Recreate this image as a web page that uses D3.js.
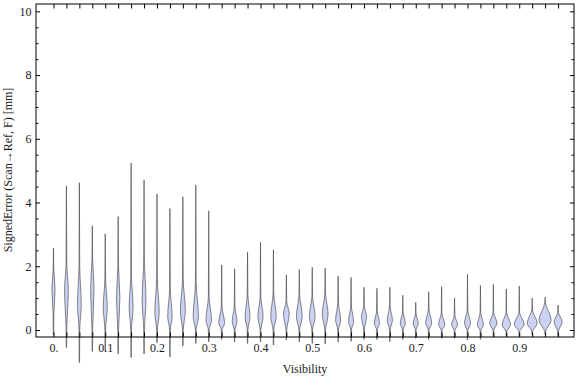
<!DOCTYPE html>
<html>
<head>
<meta charset="utf-8">
<script src="https://cdn.jsdelivr.net/npm/d3@7"></script>
<style>
  body { margin: 0; background: #fff; }
  text { font-family: "Liberation Serif", "DejaVu Serif", serif; }
</style>
</head>
<body>
<div id="chart"></div>
<script>
// visibility bins (one violin each)
var visibility = [0, 0.025, 0.05, 0.075, 0.1, 0.125, 0.15, 0.175, 0.2, 0.225,
    0.25, 0.275, 0.3, 0.325, 0.35, 0.375, 0.4, 0.425, 0.45, 0.475,
    0.5, 0.525, 0.55, 0.575, 0.6, 0.625, 0.65, 0.675, 0.7, 0.725,
    0.75, 0.775, 0.8, 0.825, 0.85, 0.875, 0.9, 0.925, 0.95, 0.975];

// largest / smallest signed error per bin [mm]
var maxErr = [2.57, 4.52, 4.62, 3.27, 3.02, 3.56, 5.24, 4.71, 4.27, 3.81,
    4.18, 4.55, 3.74, 2.04, 1.92, 2.44, 2.75, 2.52, 1.73, 1.90,
    1.97, 1.94, 1.70, 1.65, 1.34, 1.31, 1.34, 1.09, 0.87, 1.20,
    1.36, 1.00, 1.75, 1.40, 1.43, 1.29, 1.38, 1.00, 1.03, 0.78];
var minErr = [-0.16, -0.55, -1.02, -0.67, -0.68, -0.75, -0.86, -0.75, -0.40, -0.84,
    -0.50, -0.42, -0.37, -0.29, -0.37, -0.42, -0.37, -0.47, -0.31, -0.37,
    -0.42, -0.44, -0.37, -0.35, -0.29, -0.29, -0.37, -0.29, -0.26, -0.30,
    -0.26, -0.26, -0.31, -0.29, -0.21, -0.20, -0.20, -0.16, -0.14, -0.20];

// where the bulk of the distribution sits
var bodyTop = [1.9, 2.1, 2.0, 2.2, 1.6, 2.0, 1.7, 2.2, 1.6, 1.3,
    1.6, 1.5, 1.05, 0.75, 0.75, 1.1, 1.05, 1.15, 0.9, 1.1,
    1.05, 1.15, 0.85, 0.75, 0.75, 0.6, 0.73, 0.55, 0.5, 0.65,
    0.55, 0.45, 0.63, 0.55, 0.55, 0.55, 0.55, 0.63, 0.85, 0.55];
var modeErr = [1.25, 1.25, 0.8, 1.3, 0.72, 1.0, 0.72, 0.94, 0.55, 0.42,
    0.6, 0.42, 0.31, 0.21, 0.26, 0.42, 0.42, 0.42, 0.5, 0.42,
    0.42, 0.5, 0.31, 0.26, 0.42, 0.21, 0.31, 0.21, 0.21, 0.21,
    0.16, 0.16, 0.21, 0.16, 0.21, 0.16, 0.18, 0.21, 0.31, 0.26];
var bodyBottom = [0.5, 0.05, 0.0, 0.05, 0.0, 0.0, 0.0, 0.0, 0.0, 0.0,
    0.0, 0.0, 0.0, 0.0, 0.0, 0.0, 0.0, 0.0, 0.0, 0.0,
    0.0, 0.0, 0.0, 0.0, 0.0, 0.0, 0.0, 0.0, 0.0, 0.0,
    -0.02, -0.02, -0.02, -0.02, -0.02, -0.05, -0.05, -0.05, -0.05, -0.05];
// relative density at the mode
var peakDensity = [0.26, 0.31, 0.31, 0.28, 0.33, 0.28, 0.33, 0.32, 0.37, 0.37,
    0.41, 0.44, 0.46, 0.48, 0.40, 0.40, 0.43, 0.46, 0.48, 0.48,
    0.48, 0.48, 0.42, 0.42, 0.42, 0.42, 0.42, 0.42, 0.42, 0.50,
    0.50, 0.50, 0.50, 0.50, 0.60, 0.70, 0.83, 0.83, 1.00, 0.67];

var xTickValues = [0, 0.1, 0.2, 0.3, 0.4, 0.5, 0.6, 0.7, 0.8, 0.9];
var xTickLabels = ["0.", "0.1", "0.2", "0.3", "0.4", "0.5", "0.6", "0.7", "0.8", "0.9"];
var yTickValues = [0, 2, 4, 6, 8, 10];
var yMinorValues = [0.5, 1, 1.5, 2.5, 3, 3.5, 4.5, 5, 5.5, 6.5, 7, 7.5, 8.5, 9, 9.5];

var width = 576, height = 377;
var frameL = 36, frameR = 574, frameT = 4, frameB = 337;

var svg = d3.select("#chart").append("svg")
    .attr("width", width)
    .attr("height", height);

var x = d3.scaleLinear().domain([-0.0338, 1.0058]).range([frameL, frameR]);
var y = d3.scaleLinear().domain([-0.22, 10.23]).range([frameB, frameT]);
var w = d3.scaleLinear().domain([0, 1]).range([0, 6]);

// violins
var violin = d3.area()
    .curve(d3.curveMonotoneY)
    .y(function (d) { return y(d.v); })
    .x0(function (d) { return d.cx - w(d.d); })
    .x1(function (d) { return d.cx + w(d.d); });

visibility.forEach(function (v, i) {
    var cx = x(v);
    var knots = [
        { v: maxErr[i], d: 0 },
        { v: bodyTop[i], d: 0.06 },
        { v: modeErr[i], d: peakDensity[i] },
        { v: bodyBottom[i], d: 0.06 },
        { v: minErr[i], d: 0.03 }
    ].map(function (k) { k.cx = cx; return k; });

    svg.append("path")
        .attr("d", violin(knots))
        .attr("fill", "#ccd2f4")
        .attr("stroke", "#3a3a3a")
        .attr("stroke-opacity", 0.75)
        .attr("stroke-width", 0.8);
});

// frame
svg.append("rect")
    .attr("x", frameL).attr("y", frameT)
    .attr("width", frameR - frameL).attr("height", frameB - frameT)
    .attr("fill", "none").attr("stroke", "#000").attr("stroke-width", 1);

function styleAxis(g) {
    g.select(".domain").remove();
    g.selectAll("line").attr("stroke", "#000");
    g.selectAll("text")
        .attr("fill", "#1a1a1a")
        .style("font-family", "'Liberation Serif', serif")
        .style("font-size", "12px");
}

// left axis, labels + inward ticks
svg.append("g").attr("transform", "translate(" + frameL + ",0)")
    .call(d3.axisLeft(y).tickValues(yTickValues).tickSize(-4).tickPadding(4.5)
        .tickFormat(d3.format("d")))
    .call(styleAxis);
svg.append("g").attr("transform", "translate(" + frameL + ",0)")
    .call(d3.axisLeft(y).tickValues(yMinorValues).tickSize(-2.5).tickFormat(""))
    .call(styleAxis);

// right axis, inward ticks only
svg.append("g").attr("transform", "translate(" + frameR + ",0)")
    .call(d3.axisRight(y).tickValues(yTickValues).tickSize(-4).tickFormat(""))
    .call(styleAxis);
svg.append("g").attr("transform", "translate(" + frameR + ",0)")
    .call(d3.axisRight(y).tickValues(yMinorValues).tickSize(-2.5).tickFormat(""))
    .call(styleAxis);

// top / bottom ticks at every bin
svg.append("g").attr("transform", "translate(0," + frameT + ")")
    .call(d3.axisTop(x).tickValues(visibility).tickSize(-4.5).tickFormat(""))
    .call(styleAxis);
svg.append("g").attr("transform", "translate(0," + frameB + ")")
    .call(d3.axisBottom(x).tickValues(visibility).tickSize(-4.5).tickFormat(""))
    .call(styleAxis);

// bottom labels
svg.append("g").attr("transform", "translate(0," + frameB + ")")
    .call(d3.axisBottom(x).tickValues(xTickValues).tickSize(0).tickPadding(6.5)
        .tickFormat(function (d, i) { return xTickLabels[i]; }))
    .call(styleAxis);

// axis titles
svg.append("text")
    .attr("x", (frameL + frameR) / 2)
    .attr("y", 373)
    .attr("text-anchor", "middle")
    .attr("fill", "#1a1a1a")
    .style("font-size", "12px")
    .text("Visibility");

svg.append("text")
    .attr("transform", "translate(12,170) rotate(-90)")
    .attr("text-anchor", "middle")
    .attr("fill", "#1a1a1a")
    .style("font-size", "12px")
    .text("SignedError (Scan\u2192Ref, F) [mm]");
</script>
</body>
</html>
